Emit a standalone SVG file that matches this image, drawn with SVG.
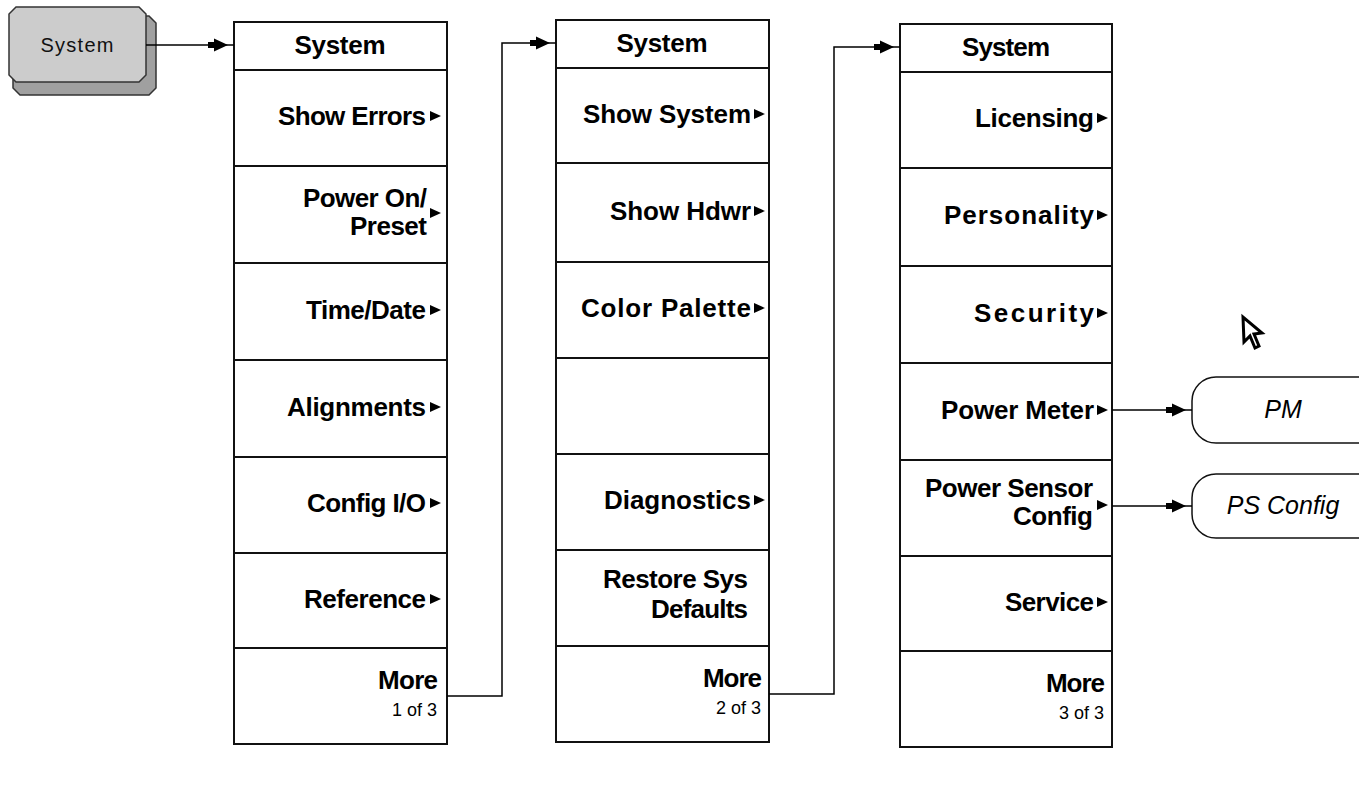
<svg xmlns="http://www.w3.org/2000/svg" width="1359" height="810" viewBox="0 0 1359 810">
<style>
.box{fill:#fff;stroke:#111;stroke-width:2}
.ln{stroke:#111;stroke-width:2}
.hdr{font-family:"Liberation Sans",Arial,sans-serif;font-weight:bold;font-size:26px;text-anchor:middle;fill:#000}
.lbl{font-family:"Liberation Sans",Arial,sans-serif;font-weight:bold;font-size:26px;text-anchor:end;fill:#000}
.sub{font-family:"Liberation Sans",Arial,sans-serif;font-size:18px;text-anchor:end;fill:#000}
.tri{fill:#000}
.conn{fill:none;stroke:#000;stroke-width:1.5;marker-end:url(#ah)}
.pill{fill:#fff;stroke:#111;stroke-width:1.5}
.pt{font-family:"Liberation Sans",Arial,sans-serif;font-style:italic;font-size:25px;text-anchor:middle;fill:#000}
.key{font-family:"Liberation Sans",Arial,sans-serif;font-size:20px;text-anchor:middle;fill:#111}
</style>
<defs>
<marker id="ah" markerUnits="userSpaceOnUse" viewBox="0 0 26 14" markerWidth="26" markerHeight="14" refX="26" refY="7" orient="auto">
<path d="M0,4 L6,4 L6,0.5 L20,7 L6,13.5 L6,10 L0,10 Z" fill="#000"/>
</marker>
</defs>
<rect width="1359" height="810" fill="#fff"/>

<g id="key-system">
<path d="M20,16 H149 L156,23 V88 L149,95 H20 L13,88 V23 Z" fill="#a0a0a0" stroke="#333" stroke-width="1.5"/>
<path d="M16,7 H139 L146,14 V75 L139,82 H16 L9,75 V14 Z" fill="#cccccc" stroke="#333" stroke-width="1.5"/>
<text class="key" x="77" y="52" textLength="73" lengthAdjust="spacing">System</text>
</g>

<g id="menu1">
<rect class="box" x="234" y="22" width="213" height="722"/>
<line class="ln" x1="234" y1="70" x2="447" y2="70"/>
<line class="ln" x1="234" y1="166" x2="447" y2="166"/>
<line class="ln" x1="234" y1="263" x2="447" y2="263"/>
<line class="ln" x1="234" y1="360" x2="447" y2="360"/>
<line class="ln" x1="234" y1="457" x2="447" y2="457"/>
<line class="ln" x1="234" y1="553" x2="447" y2="553"/>
<line class="ln" x1="234" y1="648" x2="447" y2="648"/>
<text class="hdr" x="340" y="54" textLength="91" lengthAdjust="spacing">System</text>
<text class="lbl" x="426" y="125" textLength="148" lengthAdjust="spacing">Show Errors</text>
<polygon class="tri" points="430,111 441,116 430,121"/>
<text class="lbl" x="427" y="207" textLength="124" lengthAdjust="spacing">Power On/</text>
<text class="lbl" x="427" y="235" textLength="77" lengthAdjust="spacing">Preset</text>
<polygon class="tri" points="430,208 441,213 430,218"/>
<text class="lbl" x="426" y="319" textLength="120" lengthAdjust="spacing">Time/Date</text>
<polygon class="tri" points="430,305 441,310 430,315"/>
<text class="lbl" x="426" y="416" textLength="139" lengthAdjust="spacing">Alignments</text>
<polygon class="tri" points="430,402 441,407 430,412"/>
<text class="lbl" x="426" y="512" textLength="119" lengthAdjust="spacing">Config I/O</text>
<polygon class="tri" points="430,498 441,503 430,508"/>
<text class="lbl" x="426" y="608" textLength="122" lengthAdjust="spacing">Reference</text>
<polygon class="tri" points="430,594 441,599 430,604"/>
<text class="lbl" x="438" y="689" textLength="60" lengthAdjust="spacing">More</text>
<text class="sub" x="437" y="716">1 of 3</text>
</g>

<g id="menu2">
<rect class="box" x="556" y="20" width="213" height="722"/>
<line class="ln" x1="556" y1="68" x2="769" y2="68"/>
<line class="ln" x1="556" y1="163" x2="769" y2="163"/>
<line class="ln" x1="556" y1="262" x2="769" y2="262"/>
<line class="ln" x1="556" y1="358" x2="769" y2="358"/>
<line class="ln" x1="556" y1="454" x2="769" y2="454"/>
<line class="ln" x1="556" y1="550" x2="769" y2="550"/>
<line class="ln" x1="556" y1="646" x2="769" y2="646"/>
<text class="hdr" x="662" y="52" textLength="91" lengthAdjust="spacing">System</text>
<text class="lbl" x="751" y="123" textLength="168" lengthAdjust="spacing">Show System</text>
<polygon class="tri" points="754,109 765,114 754,119"/>
<text class="lbl" x="751" y="220" textLength="141" lengthAdjust="spacing">Show Hdwr</text>
<polygon class="tri" points="754,206 765,211 754,216"/>
<text class="lbl" x="751" y="317" textLength="170" lengthAdjust="spacing">Color Palette</text>
<polygon class="tri" points="754,303 765,308 754,313"/>
<text class="lbl" x="751" y="509" textLength="147" lengthAdjust="spacing">Diagnostics</text>
<polygon class="tri" points="754,495 765,500 754,505"/>
<text class="lbl" x="748" y="588" textLength="145" lengthAdjust="spacing">Restore Sys</text>
<text class="lbl" x="748" y="618" textLength="97" lengthAdjust="spacing">Defaults</text>
<text class="lbl" x="762" y="687" textLength="59" lengthAdjust="spacing">More</text>
<text class="sub" x="761" y="714">2 of 3</text>
</g>

<g id="menu3">
<rect class="box" x="900" y="24" width="212" height="723"/>
<line class="ln" x1="900" y1="72" x2="1112" y2="72"/>
<line class="ln" x1="900" y1="168" x2="1112" y2="168"/>
<line class="ln" x1="900" y1="266" x2="1112" y2="266"/>
<line class="ln" x1="900" y1="363" x2="1112" y2="363"/>
<line class="ln" x1="900" y1="460" x2="1112" y2="460"/>
<line class="ln" x1="900" y1="556" x2="1112" y2="556"/>
<line class="ln" x1="900" y1="651" x2="1112" y2="651"/>
<text class="hdr" x="1006" y="56" textLength="88" lengthAdjust="spacing">System</text>
<text class="lbl" x="1094" y="127" textLength="119" lengthAdjust="spacing">Licensing</text>
<polygon class="tri" points="1097,113 1108,118 1097,123"/>
<text class="lbl" x="1094" y="224" textLength="150" lengthAdjust="spacing">Personality</text>
<polygon class="tri" points="1097,210 1108,215 1097,220"/>
<text class="lbl" x="1094" y="322" textLength="120" lengthAdjust="spacing">Security</text>
<polygon class="tri" points="1097,308 1108,313 1097,318"/>
<text class="lbl" x="1094" y="419" textLength="153" lengthAdjust="spacing">Power Meter</text>
<polygon class="tri" points="1097,405 1108,410 1097,415"/>
<text class="lbl" x="1093" y="497" textLength="168" lengthAdjust="spacing">Power Sensor</text>
<text class="lbl" x="1093" y="525" textLength="80" lengthAdjust="spacing">Config</text>
<polygon class="tri" points="1097,500 1108,505 1097,510"/>
<text class="lbl" x="1094" y="611" textLength="89" lengthAdjust="spacing">Service</text>
<polygon class="tri" points="1097,597 1108,602 1097,607"/>
<text class="lbl" x="1105" y="692" textLength="59" lengthAdjust="spacing">More</text>
<text class="sub" x="1104" y="719">3 of 3</text>
</g>

<g id="pm">
<rect class="pill" x="1192" y="377" width="190" height="66" rx="24" ry="24"/>
<text class="pt" x="1283" y="418">PM</text>
</g>
<g id="ps-config">
<rect class="pill" x="1192" y="474" width="190" height="64" rx="24" ry="24"/>
<text class="pt" x="1283" y="514">PS Config</text>
</g>

<g id="cursor">
<path d="M1243,317 L1244,342 L1250,336 L1255,348 L1259,346 L1254,334 L1262,333 Z" fill="#fff" stroke="#000" stroke-width="3" stroke-linejoin="miter"/>
</g>

<g id="connectors">
<path class="conn" d="M146,45 H234"/>
<path class="conn" d="M447,696 H502 V43 H556"/>
<path class="conn" d="M769,694 H834 V47 H900"/>
<path class="conn" d="M1112,410 H1192"/>
<path class="conn" d="M1112,506 H1192"/>
</g>
</svg>
